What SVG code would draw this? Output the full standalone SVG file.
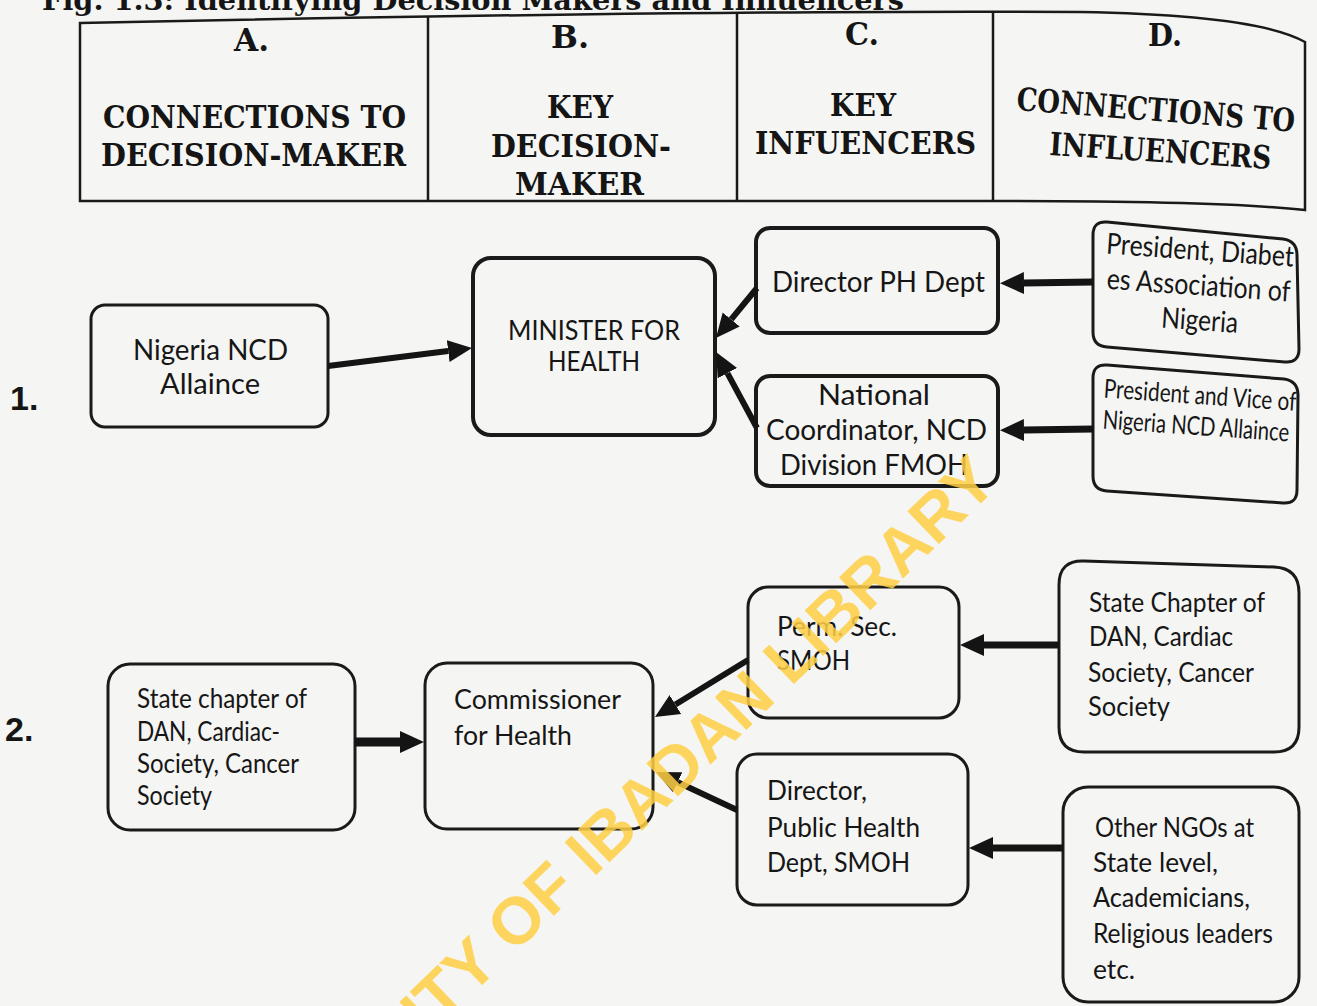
<svg xmlns="http://www.w3.org/2000/svg" width="1317" height="1006" viewBox="0 0 1317 1006">
<style>
.bg{fill:#f5f5f3}
.tbl{fill:none;stroke:#1a1a1a;stroke-width:2.5}
.box{fill:none;stroke:#1a1a1a;stroke-width:3}
.thick{stroke-width:4}
.hdr{font-family:"DejaVu Serif","Liberation Serif",serif;font-weight:bold;font-size:32px;fill:#151515}
.ttl{font-size:28px}
.lbl{font-family:Lato,"Liberation Sans",sans-serif;font-size:26px;fill:#161616}
.big{font-size:29px}
.num{font-family:"Liberation Sans",Arial,sans-serif;font-weight:bold;font-size:34px;fill:#151515}
.arr{fill:none;stroke:#141414;stroke-width:6;marker-end:url(#ah)}
.wm{font-family:"Liberation Sans",Arial,sans-serif;font-weight:bold;font-size:66px;fill:#ffd045;opacity:0.85}
</style>
<defs>
<marker id="ah" viewBox="0 -12 24 24" refX="0" refY="0" markerWidth="24" markerHeight="24" markerUnits="userSpaceOnUse" orient="auto">
<path d="M0,-11 L24,0 L0,11 Z" fill="#141414"/>
</marker>
</defs>
<rect class="bg" x="0" y="0" width="1317" height="1006"/>

<g id="title">
<text class="hdr ttl" x="42" y="10" textLength="862" lengthAdjust="spacingAndGlyphs">Fig. 1.3: Identifying Decision Makers and Influencers</text>
</g>

<g id="header-table">
<path class="tbl" d="M80,23 C350,17 800,10 1080,12 C1200,14 1275,25 1305,42 L1305,210 C1250,204 1150,201 1000,201 L80,201 Z"/>
<line class="tbl" x1="428" y1="17" x2="428" y2="201"/>
<line class="tbl" x1="737" y1="13" x2="737" y2="201"/>
<line class="tbl" x1="993" y1="12" x2="993" y2="201"/>
<text class="hdr" x="234" y="51" textLength="35" lengthAdjust="spacingAndGlyphs">A.</text>
<text class="hdr" x="103" y="128" textLength="303" lengthAdjust="spacingAndGlyphs">CONNECTIONS TO</text>
<text class="hdr" x="101" y="166" textLength="305" lengthAdjust="spacingAndGlyphs">DECISION-MAKER</text>
<text class="hdr" x="551" y="48" textLength="38" lengthAdjust="spacingAndGlyphs">B.</text>
<text class="hdr" x="547" y="118" textLength="66" lengthAdjust="spacingAndGlyphs">KEY</text>
<text class="hdr" x="491" y="157" textLength="180" lengthAdjust="spacingAndGlyphs">DECISION-</text>
<text class="hdr" x="515" y="195" textLength="129" lengthAdjust="spacingAndGlyphs">MAKER</text>
<text class="hdr" x="845" y="45" textLength="34" lengthAdjust="spacingAndGlyphs">C.</text>
<text class="hdr" x="830" y="116" textLength="66" lengthAdjust="spacingAndGlyphs">KEY</text>
<text class="hdr" x="755" y="154" textLength="221" lengthAdjust="spacingAndGlyphs">INFUENCERS</text>
<text class="hdr" x="1148" y="46" textLength="34" lengthAdjust="spacingAndGlyphs">D.</text>
<text class="hdr" x="1016" y="110" textLength="279" lengthAdjust="spacingAndGlyphs" transform="rotate(4.5 1016 110)">CONNECTIONS TO</text>
<text class="hdr" x="1049" y="155" textLength="222" lengthAdjust="spacingAndGlyphs" transform="rotate(3.6 1049 155)">INFLUENCERS</text>
</g>

<g id="row-labels">
<text class="num" x="10" y="410">1.</text>
<text class="num" x="5" y="741">2.</text>
</g>

<g id="node-nigeria-ncd">
<rect class="box" x="91" y="305" width="237" height="122" rx="14"/>
<text class="lbl big" x="133" y="360" textLength="155" lengthAdjust="spacingAndGlyphs">Nigeria NCD</text>
<text class="lbl big" x="160" y="394" textLength="100" lengthAdjust="spacingAndGlyphs">Allaince</text>
</g>
<g id="node-minister">
<rect class="box thick" x="473" y="258" width="242" height="177" rx="18"/>
<text class="lbl" x="508" y="340" font-size="27" textLength="172" lengthAdjust="spacingAndGlyphs">MINISTER FOR</text>
<text class="lbl" x="548" y="371" font-size="27" textLength="92" lengthAdjust="spacingAndGlyphs">HEALTH</text>
</g>
<g id="node-director-ph">
<rect class="box thick" x="756" y="228" width="242" height="105" rx="14"/>
<text class="lbl big" x="772" y="292" textLength="213" lengthAdjust="spacingAndGlyphs">Director PH Dept</text>
</g>
<g id="node-national-coordinator">
<rect class="box thick" x="756" y="376" width="242" height="110" rx="14"/>
<text class="lbl big" x="818" y="405" textLength="112" lengthAdjust="spacingAndGlyphs">National</text>
<text class="lbl big" x="766" y="440" textLength="221" lengthAdjust="spacingAndGlyphs">Coordinator, NCD</text>
<text class="lbl big" x="780" y="475" textLength="188" lengthAdjust="spacingAndGlyphs">Division FMOH</text>
</g>
<g id="node-president-diabetes">
<path class="box" d="M1093,235 Q1093,221 1107,222 L1283,239 Q1297,241 1297,255 L1299,349 Q1299,363 1285,362 L1107,347 Q1093,346 1093,332 Z"/>
<g transform="rotate(4 1197 295)">
<text class="lbl big" x="1103" y="260" textLength="188" lengthAdjust="spacingAndGlyphs">President, Diabet</text>
<text class="lbl big" x="1106" y="295" textLength="184" lengthAdjust="spacingAndGlyphs">es Association of</text>
<text class="lbl big" x="1163" y="330" textLength="77" lengthAdjust="spacingAndGlyphs">Nigeria</text>
</g>
</g>
<g id="node-president-vice">
<path class="box" d="M1093,378 Q1093,364 1107,365 L1284,379 Q1298,381 1298,395 L1297,490 Q1297,504 1283,503 L1107,491 Q1093,490 1093,476 Z"/>
<g transform="rotate(4 1197 420)">
<text class="lbl" x="1102" y="404" font-size="25" textLength="193" lengthAdjust="spacingAndGlyphs">President and Vice of</text>
<text class="lbl" x="1103" y="435" font-size="25" textLength="187" lengthAdjust="spacingAndGlyphs">Nigeria NCD Allaince</text>
</g>
</g>

<g id="node-state-chapter-left">
<rect class="box" x="108" y="664" width="247" height="166" rx="22"/>
<text class="lbl" x="137" y="708" textLength="170" lengthAdjust="spacingAndGlyphs">State chapter of</text>
<text class="lbl" x="137" y="741" textLength="143" lengthAdjust="spacingAndGlyphs">DAN, Cardiac-</text>
<text class="lbl" x="137" y="773" textLength="162" lengthAdjust="spacingAndGlyphs">Society, Cancer</text>
<text class="lbl" x="137" y="805" textLength="75" lengthAdjust="spacingAndGlyphs">Society</text>
</g>
<g id="node-commissioner">
<rect class="box" x="425" y="663" width="228" height="166" rx="22"/>
<text class="lbl" x="454" y="709" textLength="167" lengthAdjust="spacingAndGlyphs">Commissioner</text>
<text class="lbl" x="454" y="745" textLength="118" lengthAdjust="spacingAndGlyphs">for Health</text>
</g>
<g id="node-perm-sec">
<rect class="box" x="748" y="587" width="211" height="131" rx="20"/>
<text class="lbl" x="777" y="636" textLength="120" lengthAdjust="spacingAndGlyphs">Perm. Sec.</text>
<text class="lbl" x="777" y="670" textLength="73" lengthAdjust="spacingAndGlyphs">SMOH</text>
</g>
<g id="node-director-smoh">
<rect class="box" x="737" y="754" width="231" height="151" rx="20"/>
<text class="lbl" x="767" y="800" textLength="100" lengthAdjust="spacingAndGlyphs">Director,</text>
<text class="lbl" x="767" y="837" textLength="153" lengthAdjust="spacingAndGlyphs">Public Health</text>
<text class="lbl" x="767" y="872" textLength="143" lengthAdjust="spacingAndGlyphs">Dept, SMOH</text>
</g>
<g id="node-state-chapter-right">
<path class="box" d="M1059,585 Q1059,560 1084,561 L1274,567 Q1299,568 1299,593 L1299,727 Q1299,752 1274,752 L1084,752 Q1059,752 1059,727 Z"/>
<text class="lbl" x="1089" y="612" textLength="176" lengthAdjust="spacingAndGlyphs">State Chapter of</text>
<text class="lbl" x="1089" y="646" textLength="144" lengthAdjust="spacingAndGlyphs">DAN, Cardiac</text>
<text class="lbl" x="1088" y="682" textLength="166" lengthAdjust="spacingAndGlyphs">Society, Cancer</text>
<text class="lbl" x="1088" y="716" textLength="82" lengthAdjust="spacingAndGlyphs">Society</text>
</g>
<g id="node-other-ngos">
<rect class="box" x="1063" y="787" width="236" height="215" rx="25"/>
<text class="lbl" x="1095" y="837" textLength="159" lengthAdjust="spacingAndGlyphs">Other NGOs at</text>
<text class="lbl" x="1093" y="872" textLength="125" lengthAdjust="spacingAndGlyphs">State level,</text>
<text class="lbl" x="1093" y="907" textLength="157" lengthAdjust="spacingAndGlyphs">Academicians,</text>
<text class="lbl" x="1093" y="943" textLength="180" lengthAdjust="spacingAndGlyphs">Religious leaders</text>
<text class="lbl" x="1093" y="979" textLength="42" lengthAdjust="spacingAndGlyphs">etc.</text>
</g>

<g id="connectors">
<line class="arr" x1="328" y1="366" x2="448.2" y2="351"/>
<line class="arr" x1="757" y1="288" x2="731.2" y2="319.4"/>
<line class="arr" x1="757" y1="428" x2="727.4" y2="373.1"/>
<line class="arr" x1="1093" y1="282" x2="1024" y2="283" style="stroke-width:7"/>
<line class="arr" x1="1093" y1="429" x2="1024" y2="430" style="stroke-width:7"/>
<line class="arr" x1="355" y1="742" x2="400" y2="742" style="stroke-width:9"/>
<line class="arr" x1="748" y1="660" x2="675.4" y2="704.5"/>
<line class="arr" x1="737" y1="810" x2="677.7" y2="782.2"/>
<line class="arr" x1="1059" y1="645" x2="984" y2="645" style="stroke-width:7"/>
<line class="arr" x1="1063" y1="848" x2="993" y2="848" style="stroke-width:7"/>
</g>

<g id="watermark">
<text class="wm" x="1000" y="485" text-anchor="end" transform="rotate(-44 1000 485)">UNIVERSITY OF IBADAN LIBRARY</text>
</g>
</svg>
